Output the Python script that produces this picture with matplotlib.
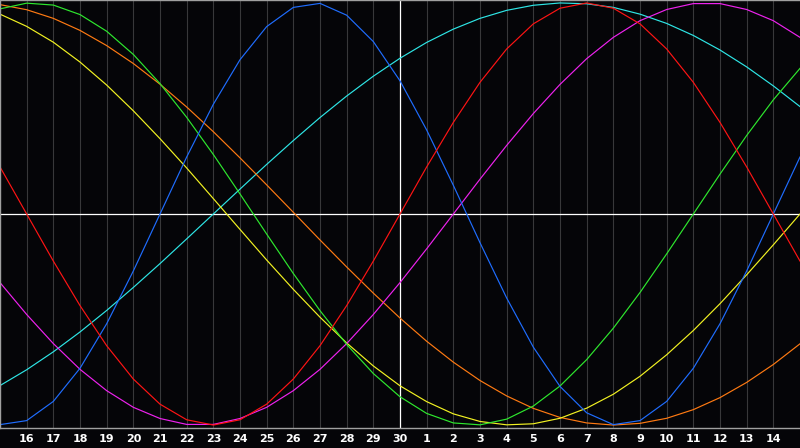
import numpy as np
import matplotlib
matplotlib.use("Agg")
import matplotlib.pyplot as plt

# dias mostrados (del 15 al 15 del mes siguiente)
dias = [15, 16, 17, 18, 19, 20, 21, 22, 23, 24, 25, 26, 27, 28, 29, 30,
        1, 2, 3, 4, 5, 6, 7, 8, 9, 10, 11, 12, 13, 14, 15]

# valores, uno por dia
fisico = [-0.998, -0.979, -0.888, -0.731, -0.520, -0.270, 0.000, 0.270, 0.520, 0.731,
          0.888, 0.979, 0.998, 0.942, 0.817, 0.631, 0.398, 0.136, -0.136, -0.398,
          -0.631, -0.817, -0.942, -0.998, -0.979, -0.888, -0.731, -0.520, -0.270, 0.000,
          0.270]
emocional = [0.223, 0.000, -0.223, -0.434, -0.624, -0.782, -0.901, -0.975, -1.000, -0.975,
             -0.901, -0.782, -0.624, -0.434, -0.223, 0.000, 0.223, 0.434, 0.624, 0.782,
             0.901, 0.975, 1.000, 0.975, 0.901, 0.782, 0.624, 0.434, 0.223, 0.000,
             -0.223]
intelectual = [0.972, 0.999, 0.990, 0.945, 0.866, 0.756, 0.618, 0.458, 0.282, 0.095,
               -0.095, -0.282, -0.458, -0.618, -0.756, -0.866, -0.945, -0.990, -0.999, -0.972,
               -0.910, -0.815, -0.690, -0.541, -0.372, -0.189, 0.000, 0.189, 0.372, 0.541,
               0.690]
intuitivo = [-0.325, -0.476, -0.614, -0.736, -0.837, -0.916, -0.969, -0.997, -0.997, -0.969,
             -0.916, -0.837, -0.736, -0.614, -0.476, -0.325, -0.165, 0.000, 0.165, 0.325,
             0.476, 0.614, 0.736, 0.837, 0.916, 0.969, 0.997, 0.997, 0.969, 0.916,
             0.837]
estetico = [0.947, 0.889, 0.814, 0.720, 0.611, 0.489, 0.357, 0.218, 0.073, -0.073,
            -0.218, -0.357, -0.489, -0.611, -0.720, -0.814, -0.889, -0.947, -0.983, -0.999,
            -0.994, -0.968, -0.920, -0.854, -0.769, -0.667, -0.552, -0.425, -0.288, -0.146,
            0.000]
conciencia = [0.992, 0.968, 0.927, 0.870, 0.798, 0.713, 0.615, 0.507, 0.390, 0.266,
              0.138, 0.008, -0.123, -0.251, -0.375, -0.493, -0.603, -0.702, -0.789, -0.862,
              -0.921, -0.964, -0.990, -1.000, -0.992, -0.968, -0.927, -0.870, -0.798, -0.713,
              -0.615]
espiritual = [-0.813, -0.738, -0.653, -0.559, -0.457, -0.348, -0.235, -0.118, 0.000, 0.118,
              0.235, 0.348, 0.457, 0.559, 0.653, 0.738, 0.813, 0.876, 0.927, 0.965,
              0.989, 1.000, 0.996, 0.979, 0.947, 0.903, 0.846, 0.777, 0.697, 0.607,
              0.509]

series = [
    (espiritual, '#2ee6e6'),
    (conciencia, '#ff7a12'),
    (estetico, '#f2f222'),
    (intuitivo, '#ee22ee'),
    (intelectual, '#2ee82e'),
    (fisico, '#1f6dff'),
    (emocional, '#ff1414'),
]

fondo = '#050508'
fig = plt.figure(figsize=(8, 4.48), dpi=100, facecolor=fondo)
ax = fig.add_axes([0, 20 / 448, 1, 428 / 448])
ax.set_facecolor(fondo)

x = np.arange(len(dias))

# rejilla vertical por dia
for i in range(1, len(dias) - 1):
    if dias[i] == 30:
        ax.axvline(i, color='white', lw=0.9, zorder=1)
    else:
        ax.axvline(i, color='#38383a', lw=0.8, zorder=1)
ax.axhline(0, color='white', lw=0.9, zorder=1)

for valores, color in series:
    ax.plot(x, valores, color=color, lw=0.85, zorder=2)

ax.set_xlim(0, len(dias) - 1)
ax.set_ylim(-1.014, 1.014)
ax.set_xticks(x[1:-1])
ax.set_xticklabels([str(d) for d in dias[1:-1]], color='white',
                   fontsize=8, fontweight='bold', family='DejaVu Sans')
ax.tick_params(axis='x', length=0, pad=4.5)
ax.set_yticks([])

for lado in ['top', 'left', 'bottom']:
    ax.spines[lado].set_color('#a0a0a0')
    ax.spines[lado].set_linewidth(1.0)
ax.spines['right'].set_visible(False)

plt.savefig('out.png', dpi=100, facecolor=fondo)
